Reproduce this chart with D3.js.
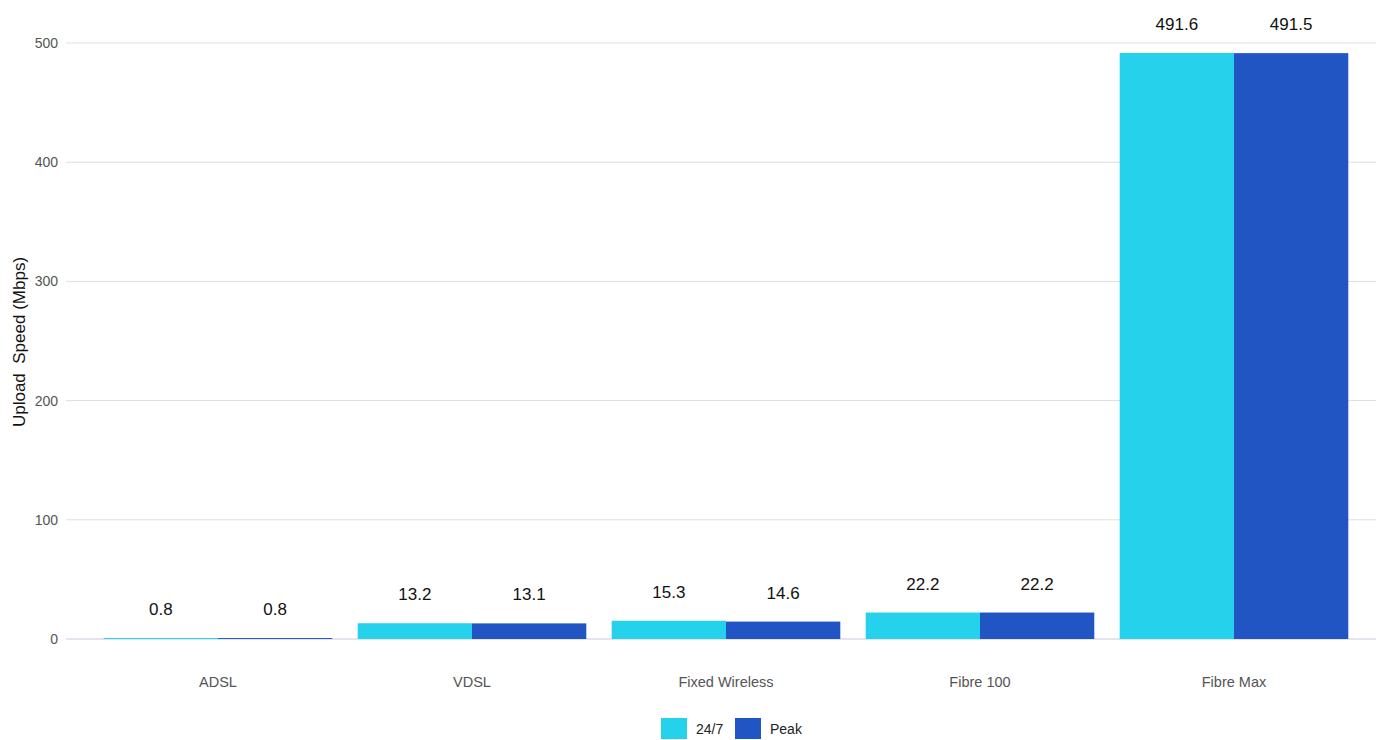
<!DOCTYPE html>
<html>
<head>
<meta charset="utf-8">
<script src="https://cdn.jsdelivr.net/npm/d3@7"></script>
<style>
  html, body { margin: 0; padding: 0; background: #fff; }
  svg { display: block; font-family: "Liberation Sans", Arial, Helvetica, sans-serif; }
</style>
</head>
<body>
<svg id="chart" width="1376" height="740"></svg>
<script>
// Upload speed by connection type
const categories = ["ADSL", "VDSL", "Fixed Wireless", "Fibre 100", "Fibre Max"];
const seriesNames = ["24/7", "Peak"];
const allDay = [0.8, 13.2, 15.3, 22.2, 491.6];
const peak = [0.8, 13.1, 14.6, 22.2, 491.5];
const yTicks = [0, 100, 200, 300, 400, 500];
const colors = ["#26d1ec", "#2255c4"];

const svg = d3.select("#chart");
const gridLeft = 66, gridRight = 1376;
const yTop = 43, yBottom = 639;

const y = d3.scaleLinear().domain([0, 500]).range([yBottom, yTop]);
const x0 = d3.scaleBand().domain(categories).range([91, 1361]).paddingInner(0.1).paddingOuter(0.05);
const x1 = d3.scaleBand().domain(seriesNames).range([0, x0.bandwidth()]).padding(0);

// Grid lines and y tick labels
const yAxis = svg.append("g");
yAxis.selectAll("line.grid").data(yTicks).join("line")
  .attr("class", "grid")
  .attr("x1", gridLeft).attr("x2", gridRight)
  .attr("y1", d => y(d)).attr("y2", d => y(d))
  .attr("stroke", d => d === 0 ? "#e4e4ee" : "#dddde9")
  .attr("stroke-width", d => d === 0 ? 2 : 1);
yAxis.selectAll("text").data(yTicks).join("text")
  .attr("x", 58).attr("y", d => y(d))
  .attr("dy", "0.35em")
  .attr("text-anchor", "end")
  .attr("font-size", 14)
  .attr("fill", "#555")
  .text(d => d);

// Y axis title
svg.append("text")
  .attr("transform", `translate(25, ${(yTop + yBottom) / 2 + 1}) rotate(-90)`)
  .attr("text-anchor", "middle")
  .attr("font-size", 17)
  .attr("fill", "#111")
  .text("Upload\u00a0 Speed (Mbps)");

// Bars
const rows = categories.map((c, i) => ({ cat: c, vals: [allDay[i], peak[i]] }));
const groups = svg.append("g").selectAll("g").data(rows).join("g")
  .attr("transform", d => `translate(${x0(d.cat)},0)`);

groups.selectAll("rect").data(d => d.vals.map((v, j) => ({ s: seriesNames[j], v, j }))).join("rect")
  .attr("x", d => x1(d.s))
  .attr("y", d => y(d.v))
  .attr("width", x1.bandwidth())
  .attr("height", d => y(0) - y(d.v))
  .attr("fill", d => colors[d.j]);

// Value labels above each bar
groups.selectAll("text").data(d => d.vals.map((v, j) => ({ s: seriesNames[j], v, j }))).join("text")
  .attr("x", d => x1(d.s) + x1.bandwidth() / 2)
  .attr("y", d => y(d.v) - 23)
  .attr("text-anchor", "middle")
  .attr("font-size", 17)
  .attr("fill", "#111")
  .text(d => d.v.toFixed(1));

// Category labels
svg.append("g").selectAll("text").data(categories).join("text")
  .attr("x", d => x0(d) + x0.bandwidth() / 2)
  .attr("y", 687)
  .attr("text-anchor", "middle")
  .attr("font-size", 14.5)
  .attr("fill", "#555")
  .text(d => d);

// Legend
const legend = svg.append("g").attr("transform", "translate(661, 718)");
const items = [{ name: seriesNames[0], x: 0 }, { name: seriesNames[1], x: 74 }];
items.forEach((it, i) => {
  legend.append("rect").attr("x", it.x).attr("y", 0).attr("width", 26).attr("height", 21).attr("fill", colors[i]);
  legend.append("text").attr("x", it.x + 35).attr("y", 11).attr("dy", "0.35em")
    .attr("font-size", 14).attr("fill", "#222").text(it.name);
});
</script>
</body>
</html>
